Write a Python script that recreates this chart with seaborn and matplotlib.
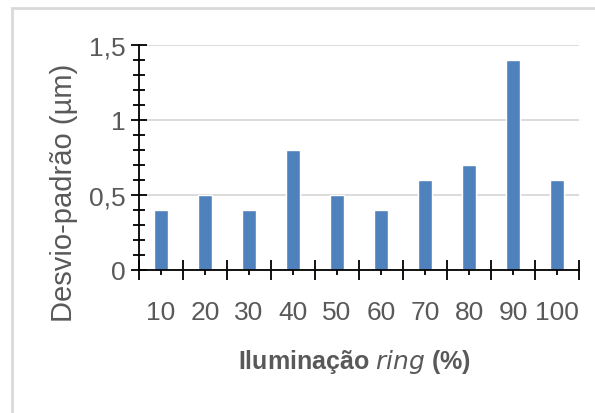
import seaborn as sns
import matplotlib.pyplot as plt
import pandas as pd
from matplotlib import font_manager
from matplotlib.patches import Rectangle
from matplotlib.ticker import FixedLocator

iluminacao = ["10", "20", "30", "40", "50", "60", "70", "80", "90", "100"]
desvio = [0.4, 0.5, 0.4, 0.8, 0.5, 0.4, 0.6, 0.7, 1.4, 0.6]
yticks = [0, 0.5, 1, 1.5]
ytick_labels = ["0", "0,5", "1", "1,5"]

sns.set_style("white")
names = {f.name for f in font_manager.fontManager.ttflist}
fam = "Liberation Sans Narrow" if "Liberation Sans Narrow" in names else "Liberation Sans"
plt.rcParams["font.family"] = [fam, "DejaVu Sans"]

grey = "#595959"
df = pd.DataFrame({"ilum": iluminacao, "desvio": desvio})

fig = plt.figure(figsize=(5.95, 4.14), dpi=100)
ax = fig.add_axes([139 / 595, 1 - 271 / 414, 440 / 595, 225 / 414])
sns.barplot(data=df, x="ilum", y="desvio", order=iluminacao, color="#4f81bd",
            width=0.32, saturation=1, ax=ax)

ax.set_xlim(-0.5, 9.5)
ax.set_ylim(0, 1.5)
ax.set_yticks(yticks)
ax.set_yticklabels(ytick_labels)
ax.yaxis.set_minor_locator(FixedLocator([i / 10 for i in range(16)]))
ax.xaxis.set_minor_locator(FixedLocator([i - 0.5 for i in range(11)]))

ax.tick_params(which="both", bottom=True, left=True)
ax.tick_params(axis="y", which="major", direction="inout", length=11, width=1.3,
               color="black", labelsize=19, labelcolor=grey, pad=4)
ax.tick_params(axis="y", which="minor", direction="inout", length=8, width=1.3, color="black")
ax.tick_params(axis="x", which="major", direction="inout", length=7, width=1.3,
               color="black", labelsize=19, labelcolor=grey, pad=18)
ax.tick_params(axis="x", which="minor", direction="inout", length=14, width=1.3, color="black")

ax.grid(axis="y", which="major", color="#d9d9d9", linewidth=1.3)
ax.set_axisbelow(True)
for s in ["top", "right"]:
    ax.spines[s].set_visible(False)
for s in ["left", "bottom"]:
    ax.spines[s].set_color("black")
    ax.spines[s].set_linewidth(1.3)
    ax.spines[s].set_zorder(3)
ax.set_xlabel("")
ax.set_ylabel("")

fig.text(64 / 595, 1 - 193 / 414, "Desvio-padrão (µm)", rotation=90, ha="center",
         va="center", fontsize=21, color=grey)
fig.text(355 / 595, 1 - 362 / 414, "Iluminação $\\it{ring}$ (%)", ha="center",
         va="center", fontsize=18, color=grey, fontweight="bold")

fig.patches.append(Rectangle((12 / 595, -0.1), 1.2, 1 - 9 / 414 + 0.1, transform=fig.transFigure,
                             fill=False, edgecolor="#d9d9d9", linewidth=2))

plt.savefig("out.png", dpi=100)
plt.close()
